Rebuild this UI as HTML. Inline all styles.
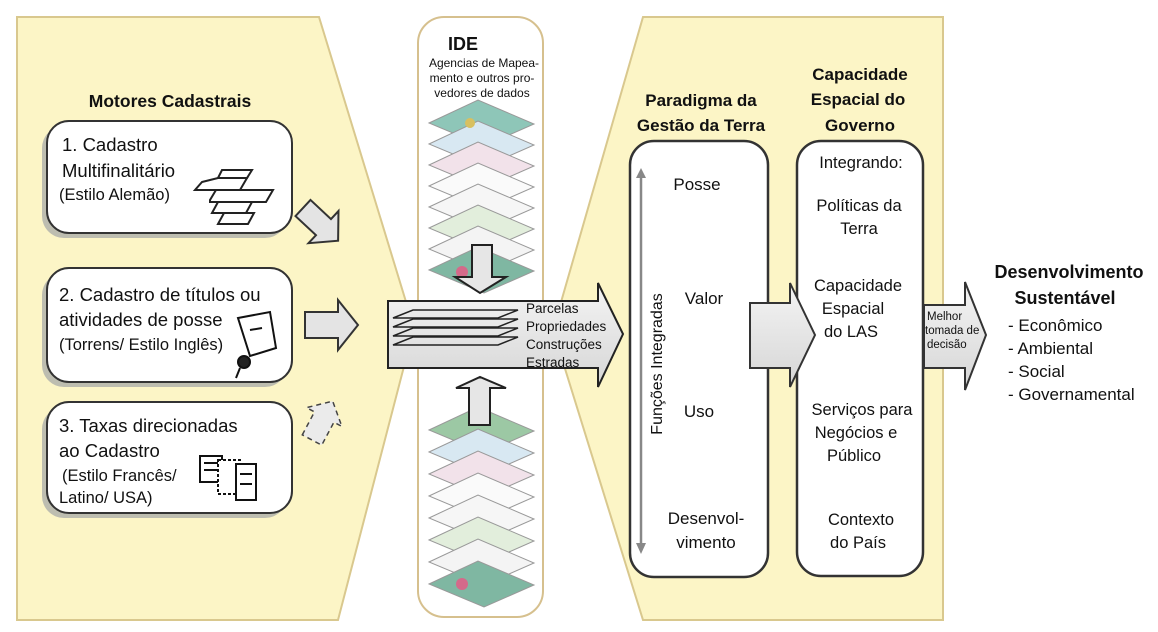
<!DOCTYPE html>
<html><head><meta charset="utf-8"><style>
html,body{margin:0;padding:0;background:#fff;}
svg{display:block;}
text{font-family:"Liberation Sans",sans-serif;fill:#111;}
.b{font-weight:bold;}
</style></head><body>
<svg width="1158" height="632" viewBox="0 0 1158 632" xmlns="http://www.w3.org/2000/svg">
<defs>
<linearGradient id="ar" x1="0" y1="0" x2="0" y2="1"><stop offset="0" stop-color="#f4f4f4"/><stop offset="1" stop-color="#d6d6d6"/></linearGradient>
</defs>
<polygon points="17,17 319,17 414,328 338,620 17,620" fill="#fcf5c6" stroke="#d9c88e" stroke-width="2"/>
<polygon points="643,17 943,17 943,620 643,620 553,330" fill="#fcf5c6" stroke="#d9c88e" stroke-width="2"/>
<rect x="418" y="17" width="125" height="600" rx="26" fill="#fff" stroke="#d6c08e" stroke-width="2"/>
<text x="448" y="50" class="b" font-size="18">IDE</text>
<text x="484" y="67" font-size="12" text-anchor="middle">Agencias de Mapea-</text>
<text x="482" y="82" font-size="12" text-anchor="middle">mento e outros pro-</text>
<text x="482" y="97" font-size="12" text-anchor="middle">vedores de dados</text>
<g stroke="#999" stroke-width="1">
<polygon points="429,123 478,100 534,124 484,146" fill="#8ec6b8"/>
<polygon points="429,144 478,121 534,145 484,167" fill="#d8e8f2"/>
<polygon points="429,165 478,142 534,166 484,188" fill="#f2e2ea"/>
<polygon points="429,186 478,163 534,187 484,209" fill="#fafafa"/>
<polygon points="429,207 478,184 534,208 484,230" fill="#f6f6f6"/>
<polygon points="429,228 478,205 534,229 484,251" fill="#e2eedc"/>
<polygon points="429,249 478,226 534,250 484,272" fill="#f4f4f4"/>
<polygon points="429,270 478,247 534,271 484,293" fill="#7fb7a2"/>
<polygon points="429,430 478,407 534,431 484,453" fill="#9cc8a4"/>
<polygon points="429,452 478,429 534,453 484,475" fill="#d8e8f2"/>
<polygon points="429,474 478,451 534,475 484,497" fill="#f2e2ea"/>
<polygon points="429,496 478,473 534,497 484,519" fill="#fafafa"/>
<polygon points="429,518 478,495 534,519 484,541" fill="#f6f6f6"/>
<polygon points="429,540 478,517 534,541 484,563" fill="#e2eedc"/>
<polygon points="429,562 478,539 534,563 484,585" fill="#f4f4f4"/>
<polygon points="429,584 478,561 534,585 484,607" fill="#7fb7a2"/>
</g>
<circle cx="462" cy="272" r="6" fill="#d46a8a"/>
<circle cx="462" cy="584" r="6" fill="#d46a8a"/>
<circle cx="470" cy="123" r="5" fill="#d8c060"/>
<polygon points="472,245 492,245 492,277 506,277 480,293 455,277 472,277" fill="#e6e6e6" stroke="#222" stroke-width="2"/>
<polygon points="469,425 490,425 490,388 506,388 480,377 456,388 469,388" fill="#e6e6e6" stroke="#222" stroke-width="2"/>
<polygon points="388,301 598,301 598,283 623,334 598,387 598,368 388,368" fill="url(#ar)" stroke="#222" stroke-width="2"/>
<g fill="none" stroke="#222" stroke-width="1.5">
<polygon points="393,318 413,310 518,310 498,318"/>
<polygon points="393,327 413,319 518,319 498,327"/>
<polygon points="393,336 413,328 518,328 498,336"/>
<polygon points="393,345 413,337 518,337 498,345"/>
</g>
<text x="526" y="313" font-size="13.5">Parcelas</text>
<text x="526" y="331" font-size="13.5">Propriedades</text>
<text x="526" y="349" font-size="13.5">Construções</text>
<text x="526" y="367" font-size="13.5">Estradas</text>
<text x="170" y="107" class="b" font-size="17.5" text-anchor="middle">Motores Cadastrais</text>
<g fill="#bdbdb0">
<rect x="42" y="126" width="245" height="112" rx="22"/>
<rect x="42" y="273" width="245" height="114" rx="22"/>
<rect x="42" y="407" width="245" height="111" rx="22"/>
</g>
<g fill="#fff" stroke="#333" stroke-width="2">
<rect x="47" y="121" width="245" height="112" rx="22"/>
<rect x="47" y="268" width="245" height="114" rx="22"/>
<rect x="47" y="402" width="245" height="111" rx="22"/>
</g>
<text x="62" y="151" font-size="18.5">1. Cadastro</text>
<text x="62" y="177" font-size="18.5">Multifinalitário</text>
<text x="59" y="200" font-size="16.5">(Estilo Alemão)</text>
<g fill="none" stroke="#222" stroke-width="2">
<polygon points="202,182 218,178 247,178 240,190 195,190"/>
<polygon points="218,178 222,170 252,170 247,178"/>
<polygon points="210,200 216,190 273,190 266,202 210,202"/>
<polygon points="212,213 218,202 252,202 246,213"/>
<polygon points="218,224 224,213 254,213 248,224"/>
</g>
<text x="59" y="301" font-size="18.5">2. Cadastro de títulos ou</text>
<text x="59" y="326" font-size="18.5">atividades de posse</text>
<text x="59" y="350" font-size="16.5">(Torrens/ Estilo Inglês)</text>
<g stroke="#111" stroke-width="2" fill="#fff">
<polygon points="238,318 270,312 276,348 250,356"/>
<line x1="250" y1="330" x2="262" y2="328"/>
<circle cx="244" cy="362" r="6" fill="#222"/>
<line x1="240" y1="368" x2="236" y2="378"/>
</g>
<text x="59" y="432" font-size="18.5">3. Taxas direcionadas</text>
<text x="59" y="457" font-size="18.5">ao Cadastro</text>
<text x="62" y="481" font-size="16.5">(Estilo Francês/</text>
<text x="59" y="503" font-size="16.5">Latino/ USA)</text>
<g stroke="#111" stroke-width="2" fill="#fff">
<rect x="200" y="456" width="22" height="26"/>
<rect x="218" y="460" width="22" height="34" stroke-dasharray="3 2"/>
<rect x="236" y="464" width="20" height="36"/>
<line x1="204" y1="463" x2="218" y2="463"/><line x1="204" y1="470" x2="218" y2="470"/>
<line x1="240" y1="474" x2="252" y2="474"/><line x1="240" y1="484" x2="252" y2="484"/>
</g>
<polygon points="0,-11 28,-11 28,-22 48,0 28,22 28,11 0,11" transform="translate(303,208) rotate(43)" fill="#e4e4e4" stroke="#333" stroke-width="2"/>
<polygon points="305,312 338,312 338,300 358,325 338,350 338,338 305,338" fill="#e4e4e4" stroke="#333" stroke-width="2"/>
<polygon points="0,-11 26,-11 26,-20 44,0 26,20 26,11 0,11" transform="translate(312,440) rotate(-62)" fill="#ebebeb" stroke="#444" stroke-width="1.5" stroke-dasharray="5 4"/>
<text x="701" y="106" class="b" font-size="17" text-anchor="middle">Paradigma da</text>
<text x="701" y="131" class="b" font-size="17" text-anchor="middle">Gestão da Terra</text>
<rect x="630" y="141" width="138" height="436" rx="24" fill="#fff" stroke="#333" stroke-width="2.5"/>
<line x1="641" y1="176" x2="641" y2="545" stroke="#888" stroke-width="2.5"/>
<polygon points="636,178 641,168 646,178" fill="#888"/>
<polygon points="636,543 641,554 646,543" fill="#888"/>
<text transform="translate(662,364) rotate(-90)" font-size="16" text-anchor="middle">Funções Integradas</text>
<text x="697" y="190" font-size="17" text-anchor="middle">Posse</text>
<text x="704" y="304" font-size="17" text-anchor="middle">Valor</text>
<text x="699" y="417" font-size="17" text-anchor="middle">Uso</text>
<text x="706" y="524" font-size="17" text-anchor="middle">Desenvol-</text>
<text x="706" y="548" font-size="17" text-anchor="middle">vimento</text>
<text x="860" y="80" class="b" font-size="17" text-anchor="middle">Capacidade</text>
<text x="858" y="105" class="b" font-size="17" text-anchor="middle">Espacial do</text>
<text x="860" y="131" class="b" font-size="17" text-anchor="middle">Governo</text>
<rect x="797" y="141" width="126" height="435" rx="24" fill="#fff" stroke="#333" stroke-width="2.5"/>
<polygon points="750,303 790,303 790,283 815,335 790,387 790,368 750,368" fill="url(#ar)" stroke="#333" stroke-width="2"/>
<g font-size="16.5" text-anchor="middle">
<text x="861" y="168">Integrando:</text>
<text x="859" y="211">Políticas da</text>
<text x="859" y="234">Terra</text>
<text x="858" y="291">Capacidade</text>
<text x="853" y="314">Espacial</text>
<text x="851" y="337">do LAS</text>
<text x="862" y="415">Serviços para</text>
<text x="856" y="438">Negócios e</text>
<text x="854" y="461">Público</text>
<text x="861" y="525">Contexto</text>
<text x="858" y="548">do País</text>
</g>
<polygon points="924,305 965,305 965,282 986,335 965,390 965,368 924,368" fill="url(#ar)" stroke="#333" stroke-width="2"/>
<text x="927" y="320" font-size="11.5">Melhor</text>
<text x="925" y="334" font-size="11.5">tomada de</text>
<text x="927" y="348" font-size="11.5">decisão</text>
<text x="1069" y="278" class="b" font-size="18" text-anchor="middle">Desenvolvimento</text>
<text x="1065" y="304" class="b" font-size="18" text-anchor="middle">Sustentável</text>
<g font-size="17">
<text x="1008" y="331">- Econômico</text>
<text x="1008" y="354">- Ambiental</text>
<text x="1008" y="377">- Social</text>
<text x="1008" y="400">- Governamental</text>
</g>
</svg>
</body></html>
